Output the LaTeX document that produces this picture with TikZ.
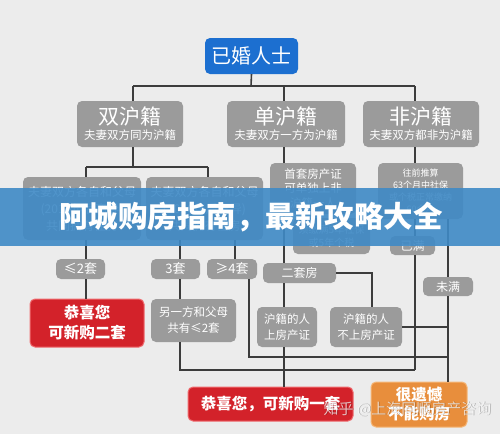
\documentclass[tikz,border=0pt]{standalone}
\usepackage{fontspec}
\setmainfont{Noto Sans CJK SC}
\newfontfamily\cjk{Noto Sans CJK SC}
\definecolor{bgc}{HTML}{ECECEC}
\definecolor{linec}{HTML}{3C3C3C}
\definecolor{boxg}{HTML}{9B9B9B}
\definecolor{topblue}{HTML}{1C6FD0}
\definecolor{redc}{HTML}{D3222A}
\definecolor{redb}{HTML}{EF6B6F}
\definecolor{orangec}{HTML}{E88E3C}
\definecolor{orangeb}{HTML}{F5B778}
\definecolor{bannerc}{HTML}{3F8AC6}
\tikzset{
  conn/.style={draw=linec, line width=1.6pt},
  gbox/.style={fill=boxg, rounded corners=5pt, inner sep=0pt, text=white, align=center, font=\cjk},
  redbox/.style={fill=redc, draw=redb, line width=1pt, rounded corners=5pt, inner sep=0pt, text=white, align=center, font=\cjk\bfseries},
  orbox/.style={fill=orangec, draw=orangeb, line width=1pt, rounded corners=5pt, inner sep=0pt, text=white, align=center, font=\cjk\bfseries},
}
\begin{document}
\begin{tikzpicture}[x=1pt,y=-1pt]
\fill[bgc] (0,0) rectangle (500,434);
\useasboundingbox (0,0) rectangle (500,434);

% nodes
\node[gbox, fill=topblue, minimum width=93pt, minimum height=36pt, font=\cjk\fontsize{20}{22}\selectfont] (top) at (251.5,56) {已婚人士};
\node[gbox, minimum width=106pt, minimum height=46pt] (shuang) at (130,124) {{\fontsize{21}{24}\selectfont 双沪籍}\\[3pt]{\fontsize{11.5}{13}\selectfont 夫妻双方同为沪籍}};
\node[gbox, minimum width=118pt, minimum height=46pt] (dan) at (286,124) {{\fontsize{21}{24}\selectfont 单沪籍}\\[3pt]{\fontsize{11.5}{13}\selectfont 夫妻双方一方为沪籍}};
\node[gbox, minimum width=116pt, minimum height=46pt] (fei) at (421,124) {{\fontsize{21}{24}\selectfont 非沪籍}\\[3pt]{\fontsize{11.5}{13}\selectfont 夫妻双方都非为沪籍}};

\node[gbox, minimum width=118pt, minimum height=63pt, font=\cjk\fontsize{12}{17}\selectfont] (fa) at (82,208.5) {夫妻双方各自和父母\\(2016年后离异)\\共同拥有住房};
\node[gbox, minimum width=117pt, minimum height=63pt, font=\cjk\fontsize{12}{17}\selectfont] (fb) at (204.5,208.5) {夫妻双方各自和父母\\(2016年后离异)\\共同拥有住房};
\node[gbox, minimum width=86pt, minimum height=51pt, font=\cjk\fontsize{11.5}{14.5}\selectfont] (shoutao) at (313,188.5) {首套房产证\\可单独上非\\沪籍一人};
\node[gbox, minimum width=77pt, minimum height=36pt, font=\cjk\fontsize{10}{13}\selectfont] (xujiao) at (331.5,236) {须缴满5年社保\\或5年个税};
\node[gbox, minimum width=85pt, minimum height=56pt, font=\cjk\fontsize{9}{12}\selectfont] (wangqian) at (420.5,191) {往前推算\\63个月中社保\\或个税正常缴纳\\60个月};

\node[gbox, minimum width=49pt, minimum height=20pt, font=\cjk\fontsize{13}{15}\selectfont] (le2) at (80.5,269) {≤2套};
\node[gbox, minimum width=49pt, minimum height=20pt, font=\cjk\fontsize{13}{15}\selectfont] (san) at (175.5,269) {3套};
\node[gbox, minimum width=50pt, minimum height=20pt, font=\cjk\fontsize{13}{15}\selectfont] (ge4) at (232,269) {≥4套};
\node[gbox, minimum width=45pt, minimum height=19pt, font=\cjk\fontsize{12}{14}\selectfont] (yiman) at (412.5,245.5) {已满};
\node[gbox, minimum width=73pt, minimum height=20pt, font=\cjk\fontsize{12}{14}\selectfont] (ertao) at (299.5,273) {二套房};
\node[gbox, minimum width=50pt, minimum height=19pt, font=\cjk\fontsize{12}{14}\selectfont] (weiman) at (448,286.5) {未满};

\node[redbox, minimum width=114pt, minimum height=48pt, font=\cjk\bfseries\fontsize{15.5}{20}\selectfont] (red1) at (87,323) {恭喜您\\可新购二套};
\node[gbox, minimum width=85pt, minimum height=43pt, font=\cjk\fontsize{11.5}{16}\selectfont] (lingyi) at (193.5,320.5) {另一方和父母\\共有≤2套};
\node[gbox, minimum width=60pt, minimum height=40pt, font=\cjk\fontsize{11.5}{16}\selectfont] (shang) at (287,327) {沪籍的人\\上房产证};
\node[gbox, minimum width=72pt, minimum height=40pt, font=\cjk\fontsize{11.5}{16}\selectfont] (bushang) at (366,327) {沪籍的人\\不上房产证};
\node[redbox, minimum width=165pt, minimum height=34pt, font=\cjk\bfseries\fontsize{15.5}{18}\selectfont] (red2) at (270.5,404) {恭喜您，可新购一套};
\node[orbox, minimum width=96pt, minimum height=45pt, font=\cjk\bfseries\fontsize{15.5}{19}\selectfont] (orange) at (419,404.5) {很遗憾\\不能购房};

% junction coordinates
\coordinate (jt) at (251,86);
\coordinate (jtl) at (133,86);
\coordinate (jtr) at (415,86);
\coordinate (js) at (133,167);
\coordinate (jsl) at (86,167);
\coordinate (jsr) at (208,167);
\coordinate (jl) at (180,370);
\coordinate (jlr) at (415,370);
\coordinate (jr) at (448,357);
\coordinate (jrl) at (249,357);
\coordinate (je) at (372,273);
\coordinate (jb) at (448,327);

% connectors
\draw[conn] (top.south) -- (jt);
\draw[conn] (jtl) -- (jtr);
\draw[conn] (jtl) -- (jtl |- shuang.north);
\draw[conn] (284,86) -- (284,101);
\draw[conn] (jtr) -- (jtr |- fei.north);

\draw[conn] (jtl |- shuang.south) -- (js);
\draw[conn] (jsl) -- (jsr);
\draw[conn] (jsl) -- (jsl |- fa.north);
\draw[conn] (jsr) -- (jsr |- fb.north);
\draw[conn] (jsl |- fa.south) -- (jsl |- le2.north);
\draw[conn] (jsl |- le2.south) -- (jsl |- red1.north);

\draw[conn] (180,240) -- (180,259);
\draw[conn] (235,240) -- (235,259);
\draw[conn] (jl |- san.south) -- (jl |- lingyi.north);
\draw[conn] (jl |- lingyi.south) -- (jl) -- (jlr);
\draw[conn] (jrl |- ge4.south) -- (jrl) -- (jr);

\draw[conn] (284,147) -- (284,163);
\draw[conn] (284,214) -- (284,263);
\draw[conn] (284,283) -- (284,307);
\draw[conn] (284,347) -- (284,387);
\draw[conn] (ertao.east |- je) -- (je) -- (je |- bushang.north);
\draw[conn] (bushang.east |- jb) -- (jb);

\draw[conn] (415,147) -- (415,163);
\draw[conn] (415,219) -- (415,236);
\draw[conn] (415,255) -- (jlr);
\draw[conn] (448,219) -- (weiman.north);
\draw[conn] (weiman.south) -- (orange.north -| weiman.south);

% banner
\fill[bannerc, opacity=0.9] (0,188) rectangle (500,246);
\node[text=white, font=\cjk\bfseries\fontsize{29.5}{32}\selectfont, inner sep=0pt] (title) at (251,217) {阿城购房指南，最新攻略大全};

% watermark
\node[text=black, opacity=0.25, font=\cjk\fontsize{15}{17}\selectfont, inner sep=0pt] (wms) at (408.3,409.8) {知乎 @上海同顺房产咨询};
\node[text=white, opacity=0.7, font=\cjk\fontsize{15}{17}\selectfont, inner sep=0pt] (wm) at (407.5,409) {知乎 @上海同顺房产咨询};
\end{tikzpicture}
\end{document}
